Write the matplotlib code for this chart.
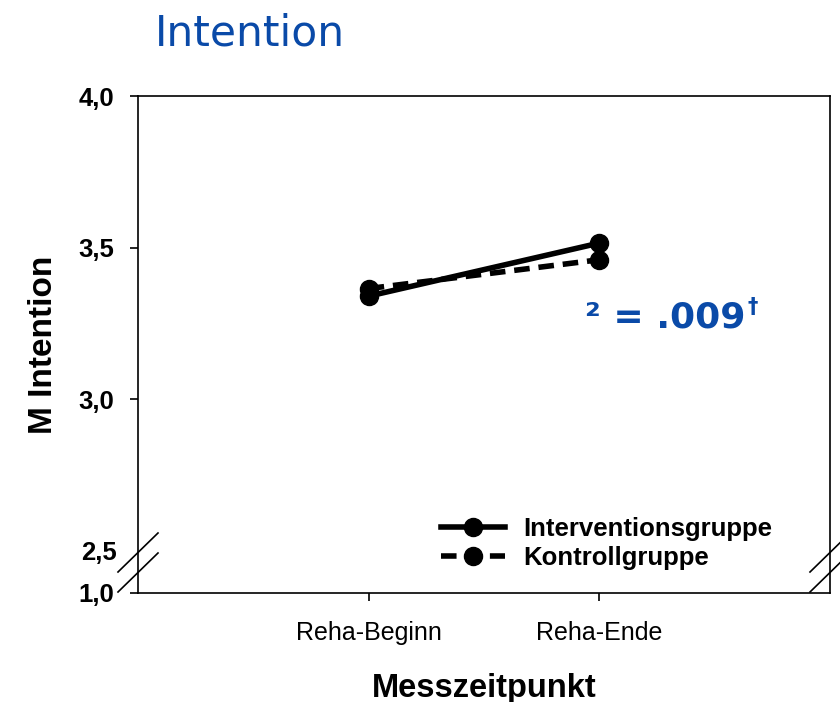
import numpy as np
import matplotlib.pyplot as plt
from matplotlib.lines import Line2D

# data
zeitpunkte = ['Reha-Beginn', 'Reha-Ende']
intervention = [3.34, 3.515]
kontroll = [3.365, 3.46]
ytick_vals = [4.0, 3.5, 3.0, 2.361]
ytick_labels = ['4,0', '3,5', '3,0', '1,0']

W, H = 840, 702
fig = plt.figure(figsize=(W/100, H/100), dpi=100)
ax = fig.add_axes([138/W, 1-593/H, (830-138)/W, (593-96)/H])

x = np.arange(len(zeitpunkte))
ax.plot(x, intervention, '-', color='black', lw=4, marker='o', ms=13,
        label='Interventionsgruppe')
ax.plot(x, kontroll, '--', color='black', lw=4, marker='o', ms=13,
        label='Kontrollgruppe', dashes=(2.8, 1.6))

ax.set_xlim(-1, 2)
ax.set_ylim(2.361, 4.0)
ax.set_xticks(x)
ax.set_xticklabels(zeitpunkte, fontsize=18, family='Liberation Sans')
ax.set_yticks(ytick_vals)
ax.set_yticklabels(ytick_labels, fontsize=18.5, fontweight='bold', family='Liberation Sans')
ax.set_yticks([2.5], minor=True)
ax.set_yticklabels(['2,5'], minor=True, fontsize=18.5, fontweight='bold', family='Liberation Sans')
ax.tick_params(axis='y', which='major', length=6, width=1.2, pad=11)
ax.tick_params(axis='y', which='minor', length=0, pad=15.5)
ax.tick_params(axis='x', length=6, width=1.2, pad=14)
for s in ax.spines.values():
    s.set_linewidth(1.2)

ax.set_ylabel('M Intention', fontsize=24, fontweight='bold', family='Liberation Sans', labelpad=14)
ax.set_xlabel('Messzeitpunkt', fontsize=23.5, fontweight='bold', family='Liberation Sans', labelpad=20)

leg = ax.legend(loc='upper left', bbox_to_anchor=(441/W, 1-517/H), bbox_transform=fig.transFigure,
                frameon=False, borderpad=0, borderaxespad=0,
                prop={'family': 'Liberation Sans', 'weight': 'bold', 'size': 18.5},
                handlelength=2.5, handletextpad=0.7, labelspacing=0.2)

# axis break marks
def px(xp, yp):
    return xp/W, 1-yp/H
for xs in (138, 830):
    for y0 in (572, 592):
        (a1, b1), (a2, b2) = px(xs-20, y0), px(xs+20, y0-39)
        fig.add_artist(Line2D([a1, a2], [b1, b2], color='black', lw=1.2, transform=fig.transFigure))

fig.text(155/W, 1-45/H, 'Intention', fontsize=30.5, color='#0a4aa8', family='DejaVu Sans',
         va='baseline')
fig.text(585/W, 1-327/H, '\u00b2 = .009', fontsize=26, color='#0a4aa8',
         fontweight='bold', family='DejaVu Sans', ha='left', va='baseline')
fig.text(748/W, 1-313/H, '\u2020', fontsize=15, color='#0a4aa8',
         fontweight='bold', family='DejaVu Sans', ha='left', va='baseline')

fig.savefig('out.png', dpi=100)
